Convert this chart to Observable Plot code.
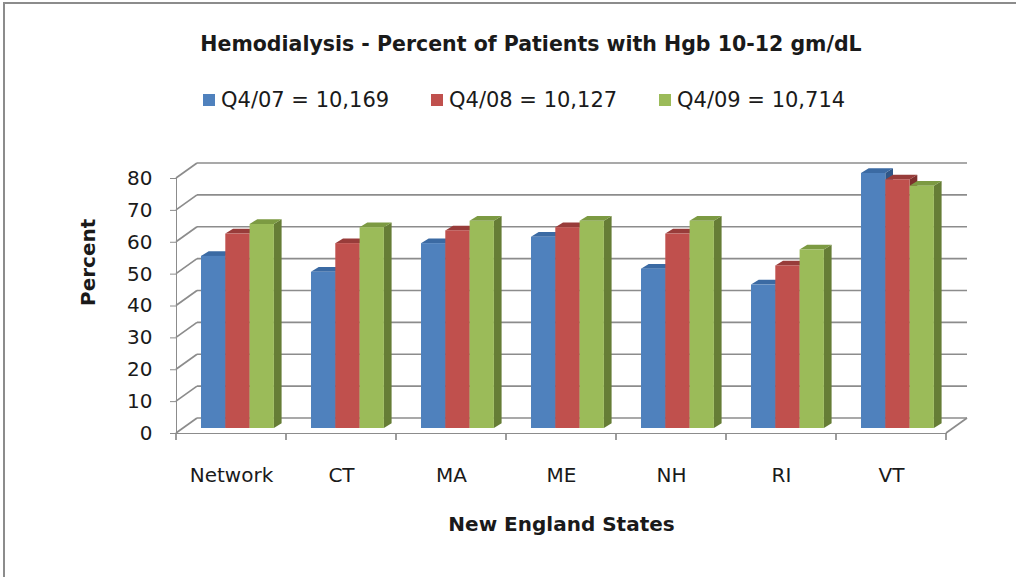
<!DOCTYPE html>
<html><head><meta charset="utf-8">
<script src="https://cdn.jsdelivr.net/npm/d3@7"></script>
<script src="https://cdn.jsdelivr.net/npm/@observablehq/plot@0.6"></script>
<style>
html,body{margin:0;padding:0;background:#fff}
body{width:1016px;height:577px;position:relative;overflow:hidden;font-family:"DejaVu Sans",sans-serif;color:#1a1a1a}
#border{position:absolute;left:3px;top:2px;width:1100px;height:700px;border-top:2px solid #8c8c8c;border-left:2px solid #8c8c8c}
#title{position:absolute;top:32px;left:0;width:1062px;text-align:center;font-weight:bold;font-size:20.5px;white-space:nowrap}
#legend{position:absolute;top:88px;left:203px;display:flex;font-size:21px;line-height:24px}
#legend .item{display:flex;align-items:center;width:228px;white-space:nowrap}
#legend .sw{width:12px;height:12px;margin-right:6px}
#chart{position:absolute;top:140px;left:0}
#chart svg text{fill:#1a1a1a}
</style></head>
<body>
<div id="border"></div>
<div id="title"></div>
<div id="legend"></div>
<div id="chart"></div>
<script>
const title = "Hemodialysis - Percent of Patients with Hgb 10-12 gm/dL";
const categories = ["Network", "CT", "MA", "ME", "NH", "RI", "VT"];
const seriesNames = ["Q4/07 = 10,169", "Q4/08 = 10,127", "Q4/09 = 10,714"];
const q407 = [54, 49, 58, 60, 50, 45, 80];
const q408 = [61, 58, 62, 63, 61, 51, 78];
const q409 = [64, 63, 65, 65, 65, 56, 76];
const yTicks = [0, 10, 20, 30, 40, 50, 60, 70, 80];
const xTitle = "New England States";
const yTitle = "Percent";

const frontColors = ["#4f81bd", "#c0504d", "#9bbb59"];
const topColors = ["#3b6aa3", "#983c3a", "#7c9a42"];
const sideColors = ["#2f5687", "#7e2f2d", "#667d36"];

const seriesValues = [q407, q408, q409];
const rows = [];
seriesValues.forEach((vals, s) => vals.forEach((v, i) => rows.push({cat: categories[i], series: seriesNames[s], s, value: v})));

document.getElementById("title").textContent = title;
const leg = document.getElementById("legend");
seriesNames.forEach((n, s) => {
  const it = document.createElement("div"); it.className = "item";
  const sw = document.createElement("div"); sw.className = "sw"; sw.style.background = frontColors[s];
  const tx = document.createElement("span"); tx.textContent = n;
  it.appendChild(sw); it.appendChild(tx); leg.appendChild(it);
});

// 3D geometry (pixels)
const BAR_OFF = 18, BAR_W = 24.3;          // bar position inside band
const PX = 7, PY = -5;                      // bar plane offset from front plane
const WX = 21, WY = -15;                    // back wall offset from front plane
const DX = 7.7, DY = -4.7;                  // bar depth
const GRID = "#8c8c8c";

function frame3d(index, scales, values, dims) {
  const {x, y} = scales;
  const g = d3.create("svg:g");
  const L = dims.marginLeft, R = dims.width - dims.marginRight;
  const y0 = y(0);
  for (const t of yTicks) {
    const yy = y(t);
    g.append("line").attr("x1", L + WX).attr("x2", R + WX).attr("y1", yy + WY).attr("y2", yy + WY)
      .attr("stroke", GRID).attr("stroke-width", 1.7);
    g.append("line").attr("x1", L).attr("y1", yy).attr("x2", L + WX).attr("y2", yy + WY)
      .attr("stroke", GRID).attr("stroke-width", 1.7);
  }
  g.append("line").attr("x1", R).attr("y1", y0).attr("x2", R + WX).attr("y2", y0 + WY)
    .attr("stroke", GRID).attr("stroke-width", 1.7);
  const bw = typeof x.bandwidth === "function" ? x.bandwidth() : (R - L) / categories.length;
  categories.forEach((c, i) => {
    const xs = x(c);
    [xs, xs + bw].forEach(xx => {
      if (i > 0 && xx === xs) return;
      g.append("line").attr("x1", xx).attr("x2", xx).attr("y1", y0).attr("y2", y0 + 7)
        .attr("stroke", GRID).attr("stroke-width", 1.7);
    });
  });
  // sides and tops of bars
  categories.forEach((c, i) => {
    seriesValues.forEach((vals, s) => {
      const x0 = x(c) + BAR_OFF + s * BAR_W + PX, x1 = x0 + BAR_W;
      const yt = y(vals[i]) + PY, yb = y(0) + PY;
      g.append("polygon").attr("points", [[x1, yt], [x1 + DX, yt + DY], [x1 + DX, yb + DY], [x1, yb]].join(" "))
        .attr("fill", sideColors[s]);
      g.append("polygon").attr("points", [[x0, yt], [x1, yt], [x1 + DX, yt + DY], [x0 + DX, yt + DY]].join(" "))
        .attr("fill", topColors[s]);
    });
  });
  return g.node();
}

const plot = Plot.plot({
  width: 1016,
  height: 437,
  marginLeft: 176,
  marginRight: 70,
  marginTop: 38,
  marginBottom: 144,
  style: {fontFamily: "DejaVu Sans, sans-serif", fontSize: "20px", color: GRID, background: "transparent", overflow: "visible"},
  x: {domain: categories, padding: 0, label: null, tickSize: 0, tickPadding: 34, line: true},
  y: {domain: [0, 80], ticks: yTicks, label: null, tickSize: 6, tickPadding: 18, line: true},
  marks: [
    frame3d,
    ...seriesNames.map((n, s) => Plot.barY(rows.filter(r => r.s === s), {
      x: "cat", y: "value", fill: frontColors[s],
      insetLeft: BAR_OFF + s * BAR_W, insetRight: 110 - BAR_OFF - (s + 1) * BAR_W,
      dx: PX, dy: PY
    })),
    Plot.text([yTitle], {text: d => d, frameAnchor: "left", rotate: -90, dx: -88, fontWeight: "bold", fontSize: 20}),
    Plot.text([xTitle], {text: d => d, frameAnchor: "bottom", dy: 97, fontWeight: "bold", fontSize: 20})
  ]
});
document.getElementById("chart").appendChild(plot);
</script>
</body></html>
